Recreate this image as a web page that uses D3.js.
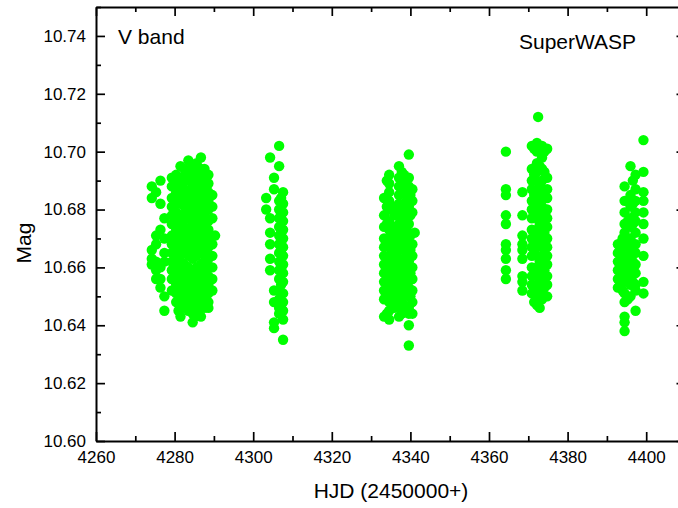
<!DOCTYPE html>
<html>
<head>
<meta charset="utf-8">
<script src="https://cdn.jsdelivr.net/npm/d3@7"></script>
<style>
  html, body { margin: 0; padding: 0; background: #fff; }
  svg { display: block; font-family: Arial, "Liberation Sans", Helvetica, sans-serif; }
  .axis path, .axis line { stroke: #000; }
  .axis text { fill: #000; }
</style>
</head>
<body>
<svg id="chart" width="678" height="508"></svg>
<script>
// SuperWASP V-band photometry, grouped by observing night: [HJD - 2450000, magnitudes]
const block1 = [
  [4274.2, [10.688, 10.684, 10.666, 10.663, 10.661]],
  [4275.3, [10.686, 10.671, 10.668, 10.662, 10.659, 10.656]],
  [4276.4, [10.690, 10.682, 10.673, 10.660, 10.656, 10.653]],
  [4277.4, [10.677, 10.670, 10.665, 10.662, 10.650, 10.645]],
  [4279.3, [10.691, 10.688, 10.684, 10.681, 10.678, 10.675, 10.671, 10.668, 10.665, 10.662, 10.659, 10.656, 10.652]],
  [4280.4, [10.692, 10.689, 10.686, 10.682, 10.679, 10.676, 10.673, 10.670, 10.667, 10.664, 10.661, 10.657, 10.654, 10.651, 10.648]],
  [4281.0, [10.690, 10.684, 10.677, 10.671, 10.664, 10.658, 10.651, 10.645]],
  [4281.5, [10.695, 10.691, 10.688, 10.685, 10.682, 10.678, 10.675, 10.672, 10.669, 10.666, 10.662, 10.659, 10.656, 10.653, 10.650, 10.647, 10.643]],
  [4282.5, [10.694, 10.690, 10.687, 10.684, 10.681, 10.677, 10.674, 10.671, 10.668, 10.665, 10.661, 10.658, 10.655, 10.652, 10.649, 10.646]],
  [4283.0, [10.692, 10.685, 10.679, 10.672, 10.666, 10.659, 10.652, 10.646]],
  [4283.5, [10.697, 10.693, 10.690, 10.686, 10.683, 10.680, 10.677, 10.673, 10.670, 10.667, 10.664, 10.660, 10.657, 10.654, 10.651, 10.648, 10.645]],
  [4284.6, [10.695, 10.692, 10.688, 10.685, 10.682, 10.679, 10.675, 10.672, 10.669, 10.666, 10.663, 10.659, 10.656, 10.653, 10.650, 10.647, 10.644, 10.641]],
  [4285.1, [10.691, 10.684, 10.678, 10.671, 10.665, 10.658, 10.652, 10.643]],
  [4285.6, [10.696, 10.693, 10.689, 10.686, 10.683, 10.680, 10.676, 10.673, 10.670, 10.667, 10.664, 10.660, 10.657, 10.654, 10.651, 10.648, 10.645]],
  [4286.7, [10.698, 10.694, 10.690, 10.687, 10.684, 10.681, 10.677, 10.674, 10.671, 10.668, 10.665, 10.661, 10.658, 10.655, 10.652, 10.649, 10.646, 10.643]],
  [4287.1, [10.692, 10.686, 10.679, 10.673, 10.666, 10.660, 10.653, 10.647]],
  [4287.6, [10.694, 10.691, 10.688, 10.684, 10.681, 10.678, 10.675, 10.671, 10.668, 10.665, 10.662, 10.658, 10.655, 10.652, 10.649, 10.646]],
  [4288.6, [10.692, 10.689, 10.686, 10.683, 10.680, 10.676, 10.673, 10.670, 10.667, 10.663, 10.660, 10.657, 10.654, 10.651, 10.648, 10.646]],
  [4289.6, [10.685, 10.681, 10.677, 10.668, 10.664, 10.660, 10.656, 10.652]],
  [4290.3, [10.671]]
];

const block2 = [
  [4303.3, [10.684, 10.680]],
  [4304.3, [10.698, 10.677, 10.672, 10.668, 10.663, 10.659]],
  [4305.3, [10.691, 10.687, 10.652, 10.648, 10.641, 10.639]],
  [4306.6, [10.702, 10.695, 10.683, 10.680, 10.677, 10.674, 10.671, 10.668, 10.665, 10.662, 10.659, 10.656, 10.652, 10.649, 10.646, 10.644]],
  [4307.1, [10.684, 10.678, 10.672, 10.666, 10.660, 10.654, 10.647]],
  [4307.6, [10.686, 10.682, 10.679, 10.676, 10.673, 10.670, 10.667, 10.664, 10.661, 10.658, 10.655, 10.651, 10.648, 10.645, 10.642, 10.635]]
];

const block3 = [
  [4333.3, [10.684, 10.678, 10.674, 10.670, 10.667, 10.664, 10.661, 10.658, 10.655, 10.652, 10.649, 10.643]],
  [4334.0, [10.690, 10.681, 10.675, 10.669, 10.662, 10.656, 10.650, 10.644]],
  [4334.6, [10.692, 10.689, 10.686, 10.683, 10.680, 10.676, 10.673, 10.670, 10.667, 10.664, 10.660, 10.657, 10.654, 10.651, 10.648, 10.645, 10.642]],
  [4335.9, [10.681, 10.678, 10.674, 10.671, 10.668, 10.665, 10.662, 10.658, 10.655, 10.652, 10.649, 10.646]],
  [4336.5, [10.680, 10.673, 10.667, 10.660, 10.654, 10.648]],
  [4337.1, [10.695, 10.691, 10.688, 10.685, 10.682, 10.678, 10.675, 10.672, 10.669, 10.666, 10.663, 10.659, 10.656, 10.653, 10.650, 10.647, 10.643]],
  [4337.8, [10.693, 10.687, 10.680, 10.674, 10.667, 10.661, 10.655, 10.648, 10.644]],
  [4338.4, [10.692, 10.689, 10.686, 10.682, 10.679, 10.676, 10.673, 10.670, 10.666, 10.663, 10.660, 10.657, 10.654, 10.651, 10.647]],
  [4339.0, [10.690, 10.683, 10.677, 10.670, 10.664, 10.657, 10.651, 10.645]],
  [4339.6, [10.699, 10.691, 10.688, 10.684, 10.681, 10.678, 10.675, 10.672, 10.668, 10.665, 10.662, 10.659, 10.656, 10.653, 10.650, 10.646, 10.644, 10.640, 10.633]],
  [4340.0, [10.685, 10.678, 10.671, 10.666, 10.658, 10.650]],
  [4340.5, [10.687, 10.683, 10.679, 10.668, 10.664, 10.660, 10.656, 10.652, 10.648, 10.644]],
  [4341.1, [10.672]]
];

const block4 = [
  [4364.3, [10.700, 10.687, 10.685, 10.678, 10.675, 10.668, 10.666, 10.663, 10.659, 10.656]],
  [4368.5, [10.686, 10.678, 10.671, 10.668, 10.666, 10.663, 10.657, 10.655, 10.652]],
  [4370.9, [10.702, 10.694, 10.690, 10.687, 10.683, 10.680, 10.677, 10.673, 10.670, 10.667, 10.664, 10.660, 10.657, 10.654, 10.651]],
  [4371.5, [10.701, 10.692, 10.685, 10.678, 10.672, 10.665, 10.659, 10.652, 10.648]],
  [4372.2, [10.703, 10.700, 10.696, 10.693, 10.690, 10.686, 10.683, 10.680, 10.677, 10.673, 10.670, 10.667, 10.664, 10.660, 10.657, 10.654, 10.650, 10.647]],
  [4372.5, [10.712]],
  [4372.9, [10.701, 10.695, 10.688, 10.682, 10.675, 10.669, 10.662, 10.656, 10.649, 10.646]],
  [4373.5, [10.702, 10.698, 10.694, 10.690, 10.687, 10.684, 10.681, 10.677, 10.674, 10.671, 10.668, 10.664, 10.661, 10.658, 10.655, 10.652, 10.649]],
  [4374.1, [10.700, 10.693, 10.686, 10.679, 10.672, 10.666, 10.659, 10.653]],
  [4374.8, [10.701, 10.691, 10.687, 10.684, 10.680, 10.677, 10.674, 10.670, 10.667, 10.664, 10.661, 10.657, 10.654, 10.650]]
];

const block5 = [
  [4392.8, [10.668, 10.665, 10.662, 10.659, 10.656, 10.653]],
  [4393.4, [10.666, 10.660, 10.654]],
  [4394.0, [10.670, 10.667, 10.664, 10.661, 10.658, 10.655, 10.652]],
  [4394.5, [10.688, 10.683, 10.679, 10.675, 10.672, 10.668, 10.664, 10.661, 10.658, 10.655, 10.651, 10.648, 10.643, 10.641, 10.638]],
  [4395.3, [10.683, 10.676, 10.669, 10.662, 10.656, 10.649]],
  [4396.0, [10.695, 10.685, 10.681, 10.677, 10.674, 10.670, 10.666, 10.663, 10.660, 10.657, 10.654, 10.650]],
  [4396.6, [10.690, 10.682, 10.675, 10.668, 10.662, 10.655]],
  [4397.3, [10.692, 10.687, 10.683, 10.679, 10.676, 10.672, 10.668, 10.665, 10.661, 10.658, 10.654, 10.652, 10.645]],
  [4399.3, [10.704, 10.693, 10.686, 10.683, 10.679, 10.675, 10.670, 10.664, 10.655, 10.651]]
];

const xTicks = [4260, 4280, 4300, 4320, 4340, 4360, 4380, 4400];
const yTicks = [10.60, 10.62, 10.64, 10.66, 10.68, 10.70, 10.72, 10.74];
const xMinorTicks = [4270, 4290, 4310, 4330, 4350, 4370, 4390, 4410];
const yMinorTicks = [10.61, 10.63, 10.65, 10.67, 10.69, 10.71, 10.73, 10.75];

const bandLabel = "V band";
const surveyLabel = "SuperWASP";
const xTitle = "HJD (2450000+)";
const yTitle = "Mag";

// Flatten nightly groups into individual observations
const points = [block1, block2, block3, block4, block5]
  .flat()
  .flatMap(([t, mags]) => mags.map(m => ({ t, m })));

const svg = d3.select("#chart");
const plot = { left: 96, right: 685.5, top: 7, bottom: 441 };

const x = d3.scaleLinear().domain([4260, 4410]).range([plot.left, plot.right]);
const y = d3.scaleLinear().domain([10.60, 10.75]).range([plot.bottom, plot.top]);

// Observations
svg.append("g")
  .selectAll("circle")
  .data(points)
  .join("circle")
  .attr("cx", d => x(d.t))
  .attr("cy", d => y(d.m))
  .attr("r", 5.2)
  .attr("fill", "#00ff00");

// Frame with inward ticks on all four sides
function styleAxis(g, width) {
  g.attr("class", "axis");
  g.select(".domain").attr("stroke-width", 2).attr("fill", "none");
  g.selectAll(".tick line").attr("stroke-width", width);
}

const minorX = (axis, yPos) => svg.append("g")
  .attr("transform", `translate(0,${yPos})`)
  .call(axis(x).tickValues(xMinorTicks).tickSize(-5).tickFormat(""))
  .call(g => styleAxis(g, 1.7))
  .call(g => g.select(".domain").remove());
const minorY = (axis, xPos) => svg.append("g")
  .attr("transform", `translate(${xPos},0)`)
  .call(axis(y).tickValues(yMinorTicks).tickSize(-5).tickFormat(""))
  .call(g => styleAxis(g, 1.7))
  .call(g => g.select(".domain").remove());

minorX(d3.axisBottom, plot.bottom);
minorX(d3.axisTop, plot.top);
minorY(d3.axisLeft, plot.left);
minorY(d3.axisRight, plot.right);

svg.append("g")
  .attr("transform", `translate(0,${plot.bottom})`)
  .call(d3.axisBottom(x).tickValues(xTicks).tickSize(-9).tickSizeOuter(0).tickPadding(10).tickFormat(d3.format("d")))
  .call(g => styleAxis(g, 1.7))
  .call(g => g.selectAll("text").attr("font-size", 17));

svg.append("g")
  .attr("transform", `translate(0,${plot.top})`)
  .call(d3.axisTop(x).tickValues(xTicks).tickSize(-9).tickSizeOuter(0).tickFormat(""))
  .call(g => styleAxis(g, 1.7));

svg.append("g")
  .attr("transform", `translate(${plot.left},0)`)
  .call(d3.axisLeft(y).tickValues(yTicks).tickSize(-9).tickSizeOuter(0).tickPadding(10).tickFormat(d3.format(".2f")))
  .call(g => styleAxis(g, 1.7))
  .call(g => g.selectAll("text").attr("font-size", 17));

svg.append("g")
  .attr("transform", `translate(${plot.right},0)`)
  .call(d3.axisRight(y).tickValues(yTicks).tickSize(-9).tickSizeOuter(0).tickFormat(""))
  .call(g => styleAxis(g, 1.7));

// Labels
svg.append("text")
  .attr("x", 118).attr("y", 44)
  .attr("font-size", 21)
  .text(bandLabel);

svg.append("text")
  .attr("x", 519).attr("y", 49)
  .attr("font-size", 21)
  .text(surveyLabel);

svg.append("text")
  .attr("x", 391).attr("y", 498)
  .attr("text-anchor", "middle")
  .attr("font-size", 21)
  .text(xTitle);

svg.append("text")
  .attr("transform", "translate(31,243) rotate(-90)")
  .attr("text-anchor", "middle")
  .attr("font-size", 21)
  .text(yTitle);
</script>
</body>
</html>
